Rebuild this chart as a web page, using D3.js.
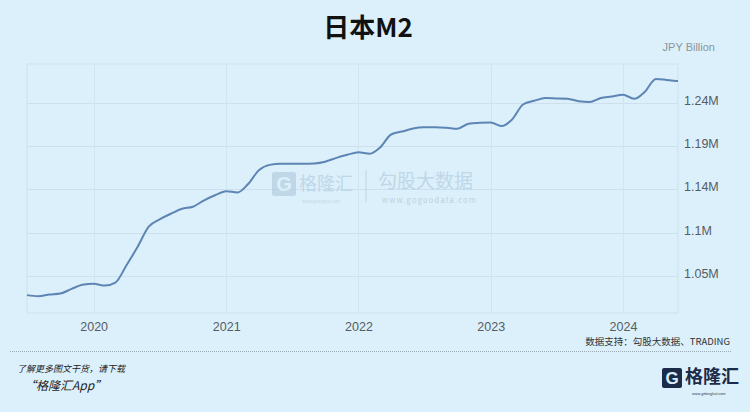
<!DOCTYPE html>
<html><head><meta charset="utf-8">
<script src="https://cdn.jsdelivr.net/npm/d3@7"></script>
<style>
body{margin:0;background:#dcf0fb;}
svg{display:block;font-family:"Noto Sans CJK SC","Noto Sans",sans-serif;}
</style>
</head><body>
<svg id="c" width="750" height="412"></svg>
<script>
// ---- data (JPY billion, monthly, Jul 2019 – Jun 2024) ----
const firstMonth = "2019-07-01";
const m2Values = [
  1026600, 1025500, 1027200, 1028300, 1033400, 1037950,
  1039000, 1037100, 1040400, 1059600, 1079350, 1101650,
  1109750, 1115800, 1121300, 1123500, 1130600, 1136100,
  1140500, 1139200, 1147800, 1163400, 1169400, 1170500,
  1170500, 1170500, 1170950, 1172900, 1177100, 1180400,
  1183250, 1181500, 1188100, 1202700, 1205900, 1209300,
  1210600, 1210700, 1210050, 1208950, 1214550, 1215550,
  1215900, 1211900, 1219200, 1235850, 1239700, 1242650,
  1242300, 1241900, 1239250, 1238350, 1242750, 1244300,
  1246300, 1241900, 1249400, 1263650, 1262550, 1261250
];
const yTickValues = [1047500, 1095000, 1142500, 1190000, 1237500];
const yTickLabels = ["1.05M", "1.1M", "1.14M", "1.19M", "1.24M"];
const xTickYears = [2020, 2021, 2022, 2023, 2024];
const titleText = "日本M2";
const unitText = "JPY Billion";
const sourceText = "数据支持：勾股大数据、TRADING";

// ---- layout ----
const svg = d3.select("#c");
const W = 750, H = 412;
const plot = {left: 27, right: 678, top: 64, bottom: 313};

svg.append("rect").attr("width", W).attr("height", H).attr("fill", "#dcf0fb");

const t0 = new Date(firstMonth + "T00:00:00");
const dates = m2Values.map((v, i) => d3.timeMonth.offset(t0, i));
const data = m2Values.map((v, i) => ({date: dates[i], value: v}));

const x = d3.scaleTime()
  .domain([dates[0], dates[dates.length - 1]])
  .range([plot.left, plot.right]);
const y = d3.scaleLinear()
  .domain([1007000, 1280000])
  .range([plot.bottom, plot.top]);

// frame
svg.append("rect")
  .attr("x", plot.left).attr("y", plot.top)
  .attr("width", plot.right - plot.left).attr("height", plot.bottom - plot.top)
  .attr("fill", "none").attr("stroke", "#cde2ee").attr("stroke-width", 1);

// horizontal grid
svg.append("g").selectAll("line").data(yTickValues).join("line")
  .attr("x1", plot.left).attr("x2", plot.right)
  .attr("y1", d => Math.round(y(d)) + 0.5).attr("y2", d => Math.round(y(d)) + 0.5)
  .attr("stroke", "#cce1ed").attr("stroke-width", 1);

// vertical grid
const yearDates = xTickYears.map(yr => new Date(yr, 0, 1));
svg.append("g").selectAll("line").data(yearDates).join("line")
  .attr("x1", d => Math.round(x(d)) + 0.5).attr("x2", d => Math.round(x(d)) + 0.5)
  .attr("y1", plot.top).attr("y2", plot.bottom)
  .attr("stroke", "#d1e5f0").attr("stroke-width", 1);

// y axis (right)
const yAxis = d3.axisRight(y)
  .tickValues(yTickValues)
  .tickFormat((d, i) => yTickLabels[i])
  .tickSize(0).tickPadding(6);
const gy = svg.append("g").attr("transform", `translate(${plot.right},0)`).call(yAxis);
gy.select(".domain").remove();
gy.selectAll("text")
  .attr("fill", "#555c63").attr("font-size", 12.5)
  .attr("font-family", "Arial, 'Liberation Sans', sans-serif")
  .attr("dy", "0.12em");

// x axis
const xAxis = d3.axisBottom(x)
  .tickValues(yearDates)
  .tickFormat(d3.timeFormat("%Y"))
  .tickSize(0).tickPadding(9);
const gx = svg.append("g").attr("transform", `translate(0,${plot.bottom})`).call(xAxis);
gx.select(".domain").remove();
gx.selectAll("text")
  .attr("fill", "#555c63").attr("font-size", 12.5)
  .attr("font-family", "Arial, 'Liberation Sans', sans-serif");

// watermark
const wm = svg.append("g").attr("opacity", 0.55);
wm.append("rect").attr("x", 272).attr("y", 172).attr("width", 24).attr("height", 24)
  .attr("rx", 3).attr("fill", "#a9c3d8");
wm.append("text").attr("x", 284).attr("y", 191).attr("text-anchor", "middle")
  .attr("font-size", 20).attr("font-weight", "bold").attr("fill", "#dcf0fb")
  .attr("font-family", "Arial, sans-serif").text("G");
wm.append("text").attr("x", 299).attr("y", 190).attr("font-size", 18)
  .attr("fill", "#a9c3d8").text("格隆汇");
wm.append("text").attr("x", 302).attr("y", 203).attr("font-size", 4)
  .attr("fill", "#a9c3d8").text("www.gelonghui.com");
wm.append("line").attr("x1", 366).attr("x2", 366).attr("y1", 170).attr("y2", 202)
  .attr("stroke", "#b8cfe0").attr("stroke-width", 1.5);
wm.append("text").attr("x", 378).attr("y", 188).attr("font-size", 19)
  .attr("fill", "#a9c3d8").text("勾股大数据");
wm.append("text").attr("x", 382).attr("y", 203).attr("font-size", 7.5)
  .attr("letter-spacing", 1.2)
  .attr("fill", "#9fb6c8").text("www.goguodata.com");

// line
const line = d3.line()
  .x(d => x(d.date))
  .y(d => y(d.value))
  .curve(d3.curveMonotoneX);
svg.append("path").datum(data)
  .attr("d", line)
  .attr("fill", "none")
  .attr("stroke", "#5d85b3")
  .attr("stroke-width", 2)
  .attr("stroke-linejoin", "round");

// title
svg.append("text").attr("x", 368).attr("y", 37).attr("text-anchor", "middle")
  .attr("font-size", 26).attr("font-weight", "bold").attr("fill", "#111")
  .text(titleText);

// unit
svg.append("text").attr("x", 715).attr("y", 51).attr("text-anchor", "end")
  .attr("font-size", 11).attr("fill", "#8a949c")
  .attr("font-family", "Arial, 'Liberation Sans', sans-serif")
  .text(unitText);

// source
svg.append("text").attr("x", 730).attr("y", 345).attr("text-anchor", "end")
  .attr("font-size", 9.5).attr("fill", "#333")
  .text(sourceText);

// dotted separator
svg.append("line").attr("x1", 10).attr("x2", 731).attr("y1", 351.5).attr("y2", 351.5)
  .attr("stroke", "#9aa9b3").attr("stroke-width", 1).attr("stroke-dasharray", "1,1");

// footer left
svg.append("text").attr("x", 17).attr("y", 372).attr("font-size", 9)
  .attr("font-style", "italic").attr("fill", "#222")
  .text("了解更多图文干货，请下载");
svg.append("text").attr("x", 24).attr("y", 390).attr("font-size", 12)
  .attr("font-style", "italic").attr("fill", "#222")
  .text("“格隆汇App”");

// footer logo
const lg = svg.append("g");
lg.append("rect").attr("x", 662).attr("y", 368).attr("width", 20).attr("height", 20)
  .attr("rx", 2).attr("fill", "#1d2b4a");
lg.append("text").attr("x", 672).attr("y", 384).attr("text-anchor", "middle")
  .attr("font-size", 17).attr("font-weight", "bold").attr("fill", "#dcf0fb")
  .attr("font-family", "Arial, sans-serif").text("G");
lg.append("text").attr("x", 685).attr("y", 383).attr("font-size", 18)
  .attr("font-weight", "bold").attr("fill", "#1d2b4a").text("格隆汇");
lg.append("text").attr("x", 692).attr("y", 395).attr("font-size", 3.5)
  .attr("fill", "#1d2b4a").text("www.gelonghui.com");
</script>
</body></html>
